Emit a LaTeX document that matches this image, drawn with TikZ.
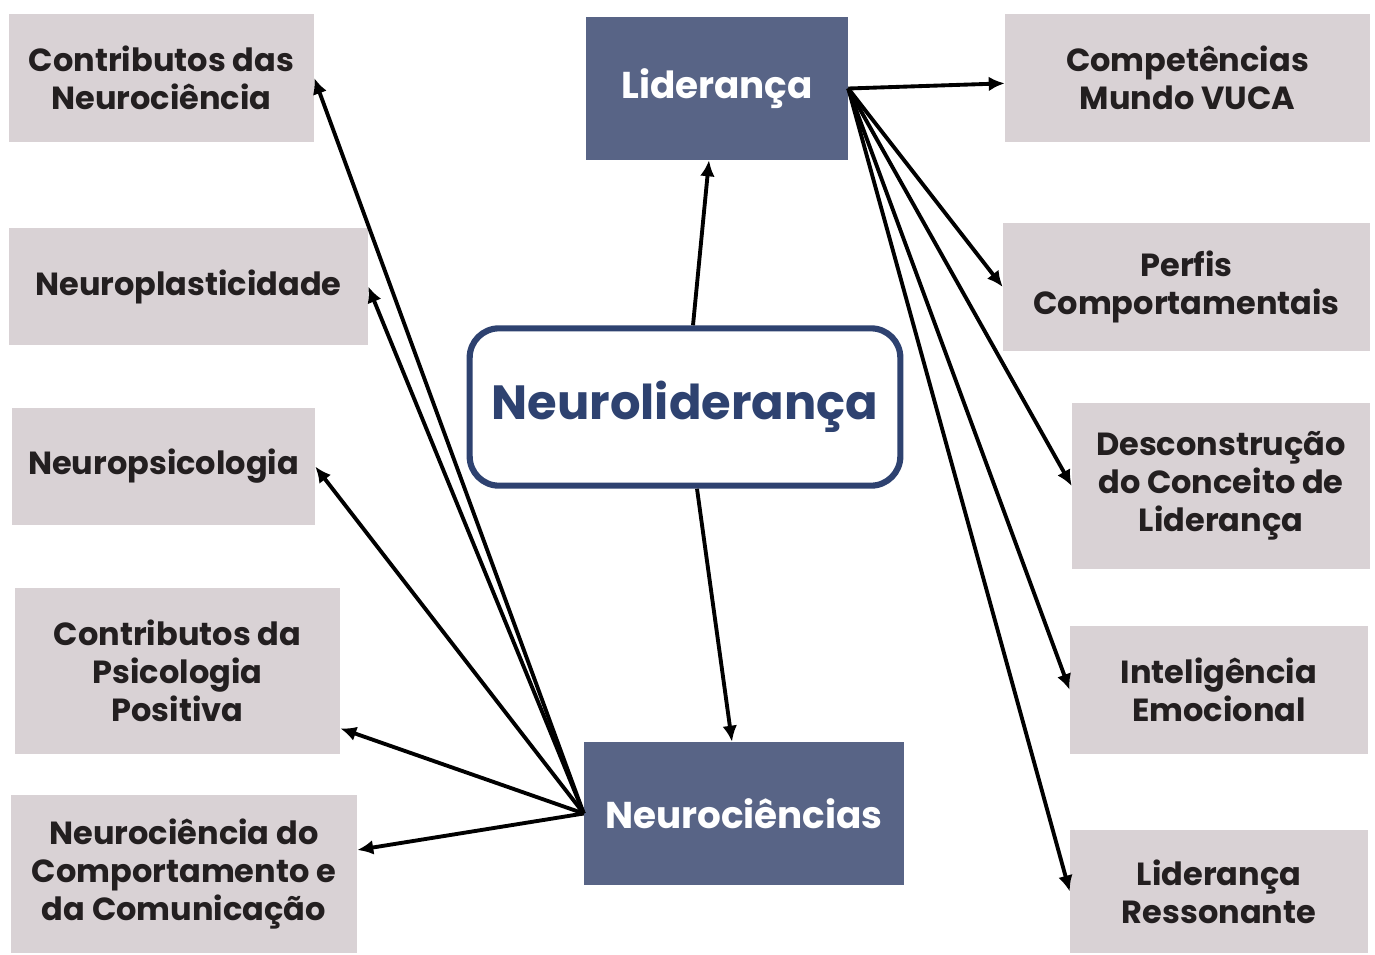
\documentclass[tikz,border=0pt]{standalone}
\usepackage{fontspec}
\setmainfont{Poppins}
\usetikzlibrary{arrows.meta}
\begin{document}
\begin{tikzpicture}[x=0.75pt,y=-0.75pt]
  \definecolor{boxgray}{HTML}{D9D2D5}
  \definecolor{boxblue}{HTML}{586486}
  \definecolor{navy}{HTML}{2E4270}
  \definecolor{ink}{HTML}{231F20}
  \tikzset{
    topic/.style={fill=boxgray,text=ink,align=center,inner sep=0pt,
      font=\fontsize{24}{28.5}\selectfont\bfseries},
    area/.style={fill=boxblue,text=white,inner sep=0pt,
      font=\fontsize{28}{32}\selectfont\bfseries},
    link/.style={line width=2.9pt,-{Latex[length=12pt,width=11pt]}}
  }
  \useasboundingbox (0,0) rectangle (1375,954);
  % central node
  \node [draw=navy,line width=4.6pt,rounded corners=22pt,fill=white,text=navy,
    minimum width=323pt,minimum height=118pt,inner sep=0pt,
    font=\fontsize{36}{42}\selectfont\bfseries] (neuro) at (685,407) {\raisebox{-3pt}{Neuroliderança}};
  \node [area,minimum width=196.5pt,minimum height=107.25pt] (lid) at (717,88.5) {Liderança};
  \node [area,minimum width=240pt,minimum height=107.25pt] (nc) at (744,813.5) {Neurociências};
  % left side
  \node [topic,minimum width=228.75pt,minimum height=96pt] (contneuro) at (161.5,78) {Contributos das\\Neurociência};
  \node [topic,minimum width=269.25pt,minimum height=87.75pt] (plast) at (188.5,286.5) {Neuroplasticidade};
  \node [topic,minimum width=227.25pt,minimum height=87.75pt] (psico) at (163.5,466.5) {Neuropsicologia};
  \node [topic,minimum width=243.75pt,minimum height=124.5pt] (positiva) at (177.5,671) {Contributos da\\Psicologia\\Positiva};
  \node [topic,minimum width=259.5pt,minimum height=118.5pt] (comport) at (184,874) {Neurociência do\\Comportamento e\\da Comunicação};
  % right side
  \node [topic,minimum width=273.75pt,minimum height=96pt] (vuca) at (1187.5,78) {Competências\\Mundo VUCA};
  \node [topic,minimum width=275.25pt,minimum height=96pt] (perfis) at (1186.5,287) {Perfis\\Comportamentais};
  \node [topic,minimum width=223.5pt,minimum height=124.5pt] (descon) at (1221,486) {Desconstrução\\do Conceito de\\Liderança};
  \node [topic,minimum width=223.5pt,minimum height=96pt] (intel) at (1219,690) {Inteligência\\Emocional};
  \node [topic,minimum width=223.5pt,minimum height=92.25pt] (resson) at (1219,891.5) {Liderança\\Ressonante};
  % connectors
  \draw [link] ([xshift=6pt]neuro.north) -- ([xshift=-6pt]lid.south);
  \draw [link] ([xshift=9pt]neuro.south) -- ([xshift=-9pt]nc.north);
  \draw [link] (lid.east) -- ([yshift=-4pt]vuca.west);
  \draw [link] (lid.east) -- (perfis.west);
  \draw [link] (lid.east) -- (descon.west);
  \draw [link] (lid.east) -- (intel.west);
  \draw [link] (lid.east) -- (resson.west);
  \draw [link] (nc.west) -- (contneuro.east);
  \draw [link] (nc.west) -- (plast.east);
  \draw [link] (nc.west) -- (psico.east);
  \draw [link] (nc.west) -- ([yshift=-43pt]positiva.east);
  \draw [link] (nc.west) -- ([yshift=18pt]comport.east);
\end{tikzpicture}
\end{document}
